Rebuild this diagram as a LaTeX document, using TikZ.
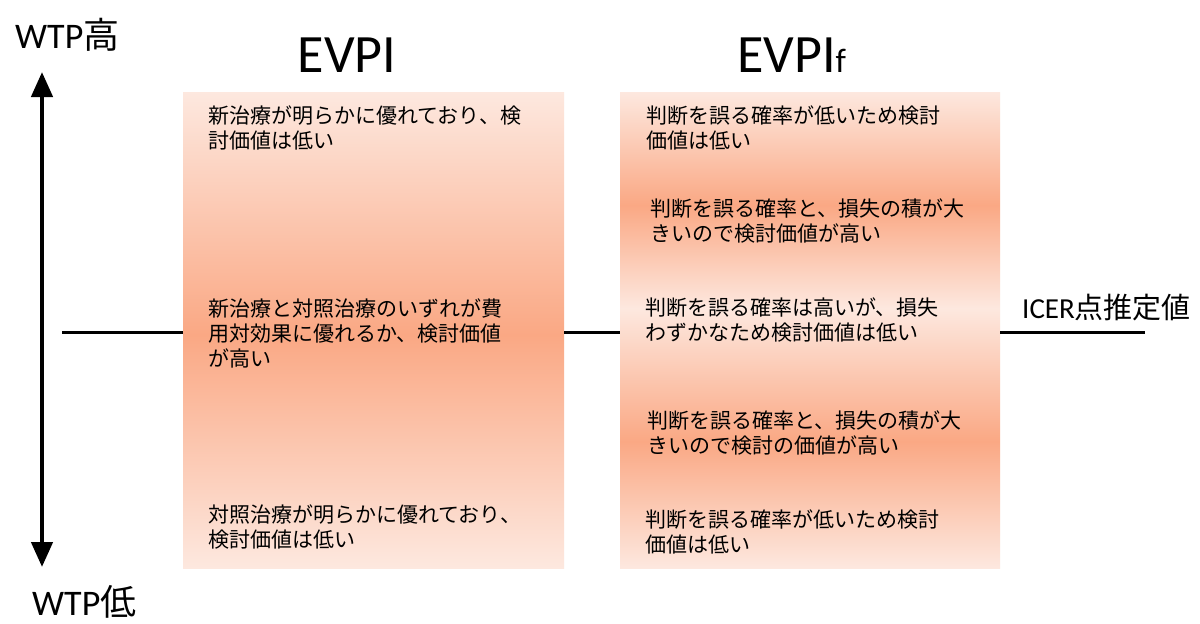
\documentclass[tikz,border=0pt]{standalone}
\usepackage{fontspec}
\setmainfont{Carlito}
\newfontfamily\jp{Noto Sans CJK JP}
\usetikzlibrary{arrows.meta}
\definecolor{lt}{RGB}{253,232,223}
\definecolor{dk}{RGB}{250,168,132}
\pgfdeclareverticalshading{rbands}{100bp}{color(0bp)=(lt); color(25bp)=(lt); color(38.3bp)=(dk); color(52.3bp)=(lt); color(63.1bp)=(dk); color(75bp)=(lt); color(100bp)=(lt)}
\pgfdeclareverticalshading{lband}{100bp}{color(0bp)=(lt); color(25bp)=(lt); color(49.5bp)=(dk); color(75bp)=(lt); color(100bp)=(lt)}
\begin{document}
\begin{tikzpicture}[x=1pt,y=-1pt,
  box/.style={shading=lband, draw=none, inner sep=0pt, minimum height=476pt},
  jtxt/.style={font=\jp\fontsize{21pt}{25pt}\selectfont, align=left, anchor=west, inner sep=0pt},
  title/.style={font=\fontsize{54pt}{60pt}\selectfont, anchor=base, inner sep=0pt},
  axislab/.style={font=\fontsize{36pt}{40pt}\selectfont, anchor=base west, inner sep=0pt},
  hline/.style={line width=3pt},
  axis/.style={line width=4.5pt, {Triangle[width=21pt,length=25pt]}-{Triangle[width=21pt,length=25pt]}}]
\useasboundingbox (0,0) rectangle (1200,624);
\fill[white] (0,0) rectangle (1200,624);
% boxes
\node[box, shading=lband, minimum width=381pt] (L) at (373.5,330) {};
\node[box, shading=rbands, minimum width=380pt] (R) at (810,330) {};
% titles
\node[title] (t1) at (347,72) {EVPI};
\node[title, anchor=base west] (t2) at (737,72) {EVPI{\fontsize{34pt}{34pt}\selectfont f}};
% axis
\coordinate (atop) at (42,72);
\coordinate (abot) at (42,567);
\draw[axis] (atop) -- (abot);
\node[axislab] (wh) at (15,48) {WTP{\jp 高}};
\node[axislab] (wl) at (32,615) {WTP{\jp 低}};
% horizontal line
\coordinate (h0) at (62,332);
\coordinate (h1) at (1145,332);
\draw[hline] (h0) -- (h0 -| L.west);
\draw[hline] (h0 -| L.east) -- (h0 -| R.west);
\draw[hline] (h1 -| R.east) -- (h1);
\node[font=\fontsize{29pt}{30pt}\selectfont, anchor=base west, inner sep=0pt] (icer) at (1022,318) {ICER{\jp 点推定値}};
% left texts
\node[jtxt] (l1) at (208,127.5) {新治療が明らかに優れており、検\\討価値は低い};
\node[jtxt] (l2) at (208,333) {新治療と対照治療のいずれが費\\用対効果に優れるか、検討価値\\が高い};
\node[jtxt] (l3) at (208,527.5) {対照治療が明らかに優れており、\\検討価値は低い};
% right texts
\node[jtxt] (r1) at (646,127.5) {判断を誤る確率が低いため検討\\価値は低い};
\node[jtxt] (r2) at (650,221.5) {判断を誤る確率と、損失の積が大\\きいので検討価値が高い};
\node[jtxt] (r3) at (645,320) {判断を誤る確率は高いが、損失\\わずかなため検討価値は低い};
\node[jtxt] (r4) at (647,433.5) {判断を誤る確率と、損失の積が大\\きいので検討の価値が高い};
\node[jtxt] (r5) at (645,531.5) {判断を誤る確率が低いため検討\\価値は低い};
\end{tikzpicture}
\end{document}
